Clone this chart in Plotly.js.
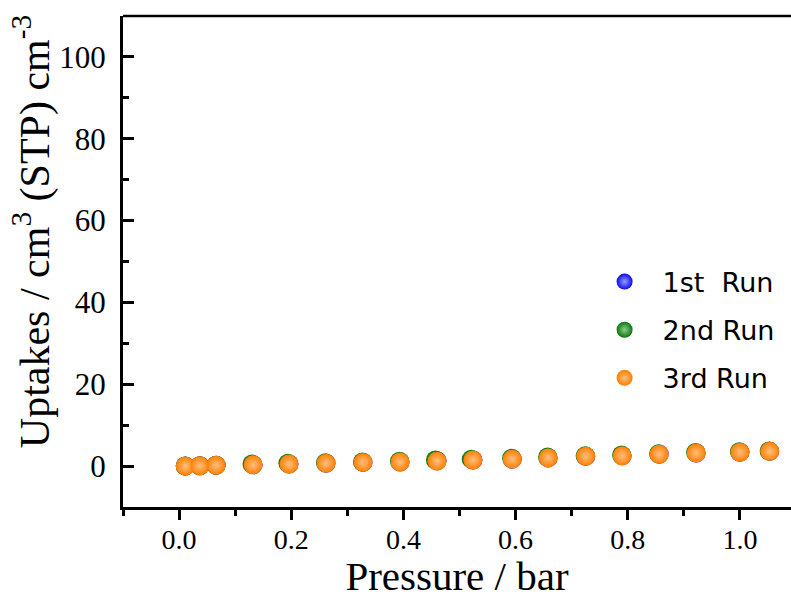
<!DOCTYPE html>
<html>
<head>
<meta charset="utf-8">
<script src="https://cdn.plot.ly/plotly-3.0.1.min.js"></script>
<style>html,body{margin:0;padding:0;background:#fff;} #chart{width:791px;height:599px;}</style>
</head>
<body>
<div id="chart"></div>
<script>
// Data
var pressure1 = [0.011, 0.037, 0.066, 0.132, 0.196, 0.262, 0.328, 0.394, 0.46, 0.524, 0.594, 0.658, 0.725, 0.79, 0.856, 0.922, 1.0, 1.053];
var run1 = [0.0, 0.1, 0.2, 0.3, 0.5, 0.7, 0.9, 1.0, 1.3, 1.5, 1.7, 2.0, 2.4, 2.5, 2.9, 3.2, 3.4, 3.6];
var pressure2 = [0.011, 0.037, 0.066, 0.130, 0.194, 0.261, 0.327, 0.393, 0.457, 0.521, 0.593, 0.657, 0.724, 0.789, 0.855, 0.921, 0.999, 1.052];
var run2 = [0.0, 0.1, 0.2, 0.5, 0.7, 0.8, 1.0, 1.2, 1.5, 1.7, 1.9, 2.2, 2.5, 2.7, 3.0, 3.3, 3.5, 3.7];
var pressure3 = [0.011, 0.037, 0.066, 0.132, 0.196, 0.262, 0.328, 0.394, 0.46, 0.524, 0.594, 0.658, 0.725, 0.79, 0.856, 0.922, 1.0, 1.053];
var run3 = [0.0, 0.1, 0.2, 0.3, 0.5, 0.7, 0.9, 1.0, 1.2, 1.5, 1.7, 2.0, 2.4, 2.5, 2.9, 3.2, 3.4, 3.6];
var seriesNames = ['1st  Run', '2nd Run', '3rd Run'];
var xTickVals = [0, 0.2, 0.4, 0.6, 0.8, 1.0];
var xTickText = ['0.0', '0.2', '0.4', '0.6', '0.8', '1.0'];
var yTickVals = [0, 20, 40, 60, 80, 100];

function mk(x, y, name, edge, center, grp) {
  return {
    type: 'scatter', mode: 'markers', x: x, y: y, name: name, legendgroup: grp,
    marker: {size: 19, color: edge, line: {width: 0}, gradient: {type: 'radial', color: center}},
    cliponaxis: false
  };
}
var traces = [
  mk(pressure1, run1, seriesNames[0], '#0a0af0', '#9a9aff', 'a'),
  mk(pressure2, run2, seriesNames[1], '#0c760c', '#8ccc8c', 'b'),
  mk(pressure3, run3, seriesNames[2], '#ff7f00', '#ffbf80', 'c')
];

var serif = 'Liberation Serif, Times New Roman, serif';
var layout = {
  width: 791, height: 599,
  paper_bgcolor: '#fff', plot_bgcolor: '#fff',
  margin: {l: 123, r: 0, t: 16, b: 92},
  showlegend: true,
  legend: {
    x: 0.694, y: 0.508, xanchor: 'left', yanchor: 'top',
    font: {family: 'DejaVu Sans, sans-serif', size: 27, color: '#000'},
    traceorder: 'grouped', tracegroupgap: 10, bgcolor: 'rgba(0,0,0,0)', itemwidth: 66
  },
  xaxis: {
    range: [-0.1, 1.091], showgrid: false, zeroline: false,
    showline: true, linewidth: 3, linecolor: '#000',
    ticks: 'outside', ticklen: 10, tickwidth: 3, tickcolor: '#000',
    tickvals: xTickVals, ticktext: xTickText, ticklabelstandoff: -5,
    minor: {dtick: 0.1, ticks: 'outside', ticklen: 6, tickwidth: 3, tickcolor: '#000'},
    tickfont: {family: serif, size: 28, color: '#000'},
    title: {text: 'Pressure / bar', font: {family: serif, size: 41, color: '#000'}, standoff: 14}
  },
  yaxis: {
    range: [-10, 110], showgrid: false, zeroline: false,
    showline: true, linewidth: 3, linecolor: '#000',
    ticks: 'inside', ticklen: 11, tickwidth: 3, tickcolor: '#000',
    tickvals: yTickVals, ticklabelstandoff: 8,
    minor: {dtick: 10, ticks: 'inside', ticklen: 6, tickwidth: 3, tickcolor: '#000'},
    tickfont: {family: serif, size: 31, color: '#000'}
  },
  annotations: [{
    xref: 'paper', yref: 'paper', x: -0.136, y: 0.56, xanchor: 'center', yanchor: 'middle',
    textangle: -90, showarrow: false,
    text: 'Uptakes / cm<sup>3</sup> (STP) cm<sup>-3</sup>',
    font: {family: serif, size: 42, color: '#000'}
  }],
  shapes: [{type: 'line', xref: 'paper', yref: 'paper', x0: 0, x1: 1, y0: 1, y1: 1, line: {color: '#000', width: 2.5}}]
};
Plotly.newPlot('chart', traces, layout, {displayModeBar: false, staticPlot: true});
</script>
</body>
</html>
